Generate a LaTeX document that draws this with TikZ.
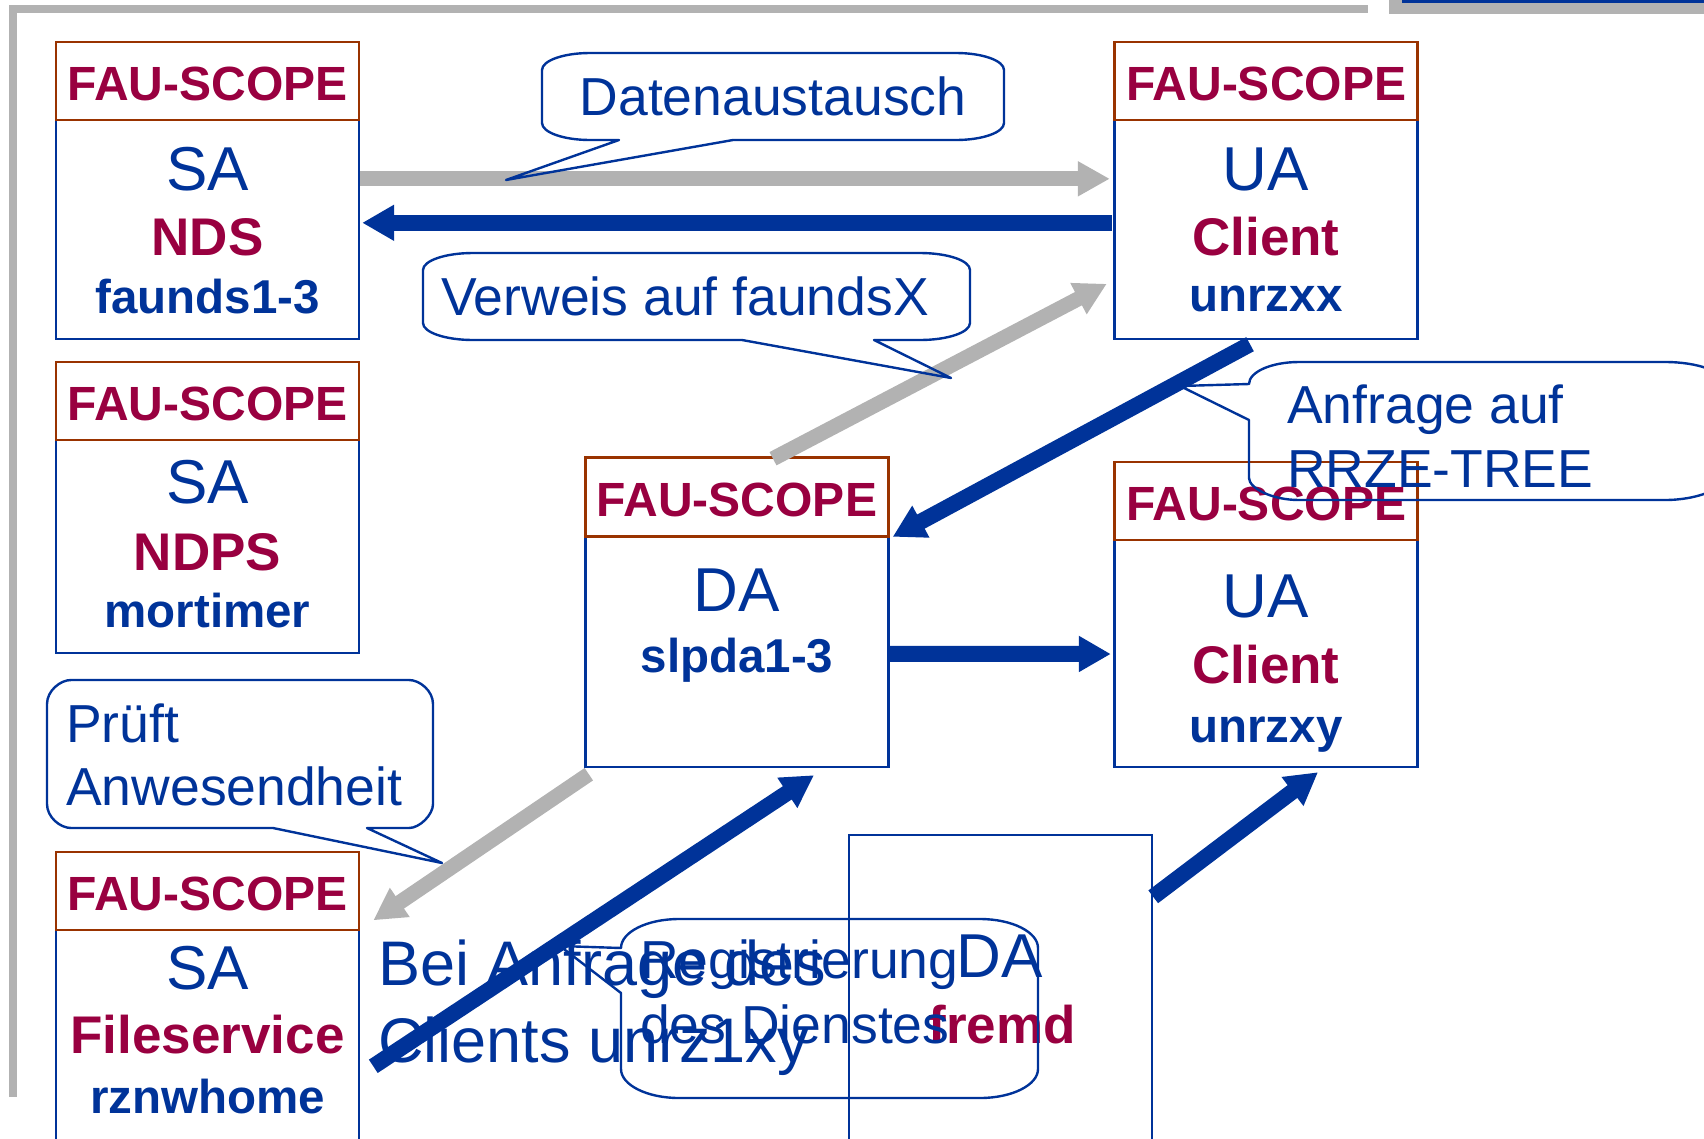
\documentclass[tikz,border=0pt]{standalone}
\usepackage{fontspec}
\setmainfont{Liberation Sans}
\usetikzlibrary{arrows.meta}
\definecolor{fblue}{RGB}{0,51,153}
\definecolor{fred}{RGB}{153,0,64}
\definecolor{hbrown}{RGB}{153,51,0}
\definecolor{fgray}{RGB}{178,178,178}
\tikzset{
 hdr/.style={draw=hbrown, line width=2.6pt, minimum width=303pt, minimum height=78pt, inner sep=0pt, text=fred, font=\bfseries\fontsize{48}{48}\selectfont, text height=38pt, text depth=0pt},
 bodybox/.style={draw=fblue, line width=2.4pt, minimum width=303pt, inner sep=0pt},
 big/.style={text=fblue, font=\fontsize{62}{62}\selectfont, anchor=base, inner sep=0pt},
 redl/.style={text=fred, font=\bfseries\fontsize{53}{53}\selectfont, anchor=base, inner sep=0pt},
 bluel/.style={text=fblue, font=\bfseries\fontsize{47.5}{47.5}\selectfont, anchor=base, inner sep=0pt},
 note/.style={text=fblue, font=\fontsize{53.5}{53.5}\selectfont, anchor=base west, inner sep=0pt},
 bignote/.style={text=fblue, font=\fontsize{63}{63}\selectfont, anchor=base west, inner sep=0pt},
 callout/.style={draw=fblue, line width=2.4pt, line join=round},
 bluearrow/.style={draw=fblue, line width=16pt, -{Triangle[length=32pt,width=34pt]}},
 grayarrow/.style={draw=fgray, line width=15pt, -{Triangle[length=32pt,width=33pt]}},
}
\begin{document}
\begin{tikzpicture}[x=1pt,y=-1pt]
\useasboundingbox (0,0) rectangle (1704,1138);
\clip (0,0) rectangle (1704,1138);
% frame
\fill[fgray] (9,5) rectangle (1368,13);
\fill[fgray] (9,5) rectangle (17,1097);
\fill[fgray] (1389,0) rectangle (1704,14);
\fill[fblue] (1402,0) rectangle (1704,2.5);

% boxes
\node[bodybox, minimum height=219pt] (sa1b) at (207.5,229.5) {};
\node[hdr] (sa1h) at (207.5,81) {FAU-SCOPE};
\node[bodybox, minimum height=219pt] (ua1b) at (1266,229.5) {};
\node[hdr] (ua1h) at (1266,81) {FAU-SCOPE};
\node[bodybox, minimum height=213pt] (sa2b) at (207.5,546.5) {};
\node[hdr] (sa2h) at (207.5,401) {FAU-SCOPE};
\node[bodybox, minimum height=230.5pt] (dab) at (737,651.75) {};
\node[hdr, minimum height=79pt] (dah) at (737,497) {FAU-SCOPE};
\node[bodybox, minimum height=227pt] (ua2b) at (1266,653.5) {};
\node[hdr] (ua2h) at (1266,501) {FAU-SCOPE};
\node[bodybox, minimum height=230pt] (sa3b) at (207.5,1045) {};
\node[hdr] (sa3h) at (207.5,891) {FAU-SCOPE};
\node[bodybox, minimum height=325pt] (fremd) at (1000.5,997.5) {};

% box texts
\node[big] (t1) at (207.5,190) {SA};
\node[redl] (t2) at (207.5,255) {NDS};
\node[bluel] (t3) at (207.5,313) {faunds1-3};
\node[big] (t4) at (1266,190) {UA};
\node[redl] (t5) at (1266,255) {Client};
\node[bluel] (t6) at (1266,311) {unrzxx};
\node[big] (t7) at (207.5,503) {SA};
\node[redl] (t8) at (207.5,570) {NDPS};
\node[bluel] (t9) at (207.5,627) {mortimer};
\node[big] (t10) at (737,611) {DA};
\node[bluel] (t11) at (737,672) {slpda1-3};
\node[big] (t12) at (1266,617) {UA};
\node[redl] (t13) at (1266,683) {Client};
\node[bluel] (t14) at (1266,742) {unrzxy};
\node[big] (t15) at (207.5,989) {SA};
\node[redl] (t16) at (207.5,1053) {Fileservice};
\node[bluel] (t17) at (207.5,1113) {rznwhome};
\node[big] (t18) at (1000,977) {DA};
\node[redl] (t19) at (1002,1043) {fremd};

% free text
\node[bignote] (bei1) at (378,985) {Bei Anfrage des};
\node[bignote] (bei2) at (378,1062) {Clients unrz1xy};

% arrows
\draw[grayarrow] ([yshift=-60pt]sa1b.north east) -- ([xshift=-3.5pt,yshift=-60pt]ua1b.north west);
\draw[bluearrow] ([xshift=-1.5pt,yshift=-104pt]ua1b.north west) -- ([xshift=2pt,yshift=-104pt]sa1b.north east);
\draw[grayarrow] ([xshift=36pt,yshift=-2.5pt]dah.north) -- ([xshift=-6.5pt,yshift=-165pt]ua1b.north west);
\draw[bluearrow] ([xshift=-16pt,yshift=-4pt]ua1b.south) -- ([xshift=3pt,yshift=-1.5pt]dab.north east);
\draw[bluearrow] ([yshift=-2pt]dab.east) -- ([xshift=-2.5pt,yshift=-0.5pt]ua2b.west);
\draw[grayarrow] ([xshift=4.5pt,yshift=-6pt]dab.south west) -- ([xshift=13pt,yshift=11pt]sa3h.south east);
\draw[bluearrow] ([xshift=13pt,yshift=-135pt]sa3h.south east) -- ([xshift=77pt,yshift=-7pt]dab.south);
\draw[bluearrow] ([yshift=-63pt]fremd.north east) -- ([xshift=52pt,yshift=-4pt]ua2b.south);

% callouts
\draw[callout] (590,53) -- (956,53) .. controls (982.5,53) and (1004,60.6) .. (1004,70) -- (1004,123) .. controls (1004,132.4) and (982.5,140) .. (956,140) -- (733,140) -- (506,180) -- (619,140) -- (590,140) .. controls (563.5,140) and (542,132.4) .. (542,123) -- (542,70) .. controls (542,60.6) and (563.5,53) .. (590,53) -- cycle;
\node[text=fblue, font=\fontsize{53.5}{53.5}\selectfont, anchor=base, inner sep=0pt] (cdat) at (773,115) {Datenaustausch};

\draw[callout] (473,253) -- (920,253) .. controls (947.6,253) and (970,260.6) .. (970,270) -- (970,323) .. controls (970,332.4) and (947.6,340) .. (920,340) -- (874,340) -- (951,378) -- (742,340) -- (473,340) .. controls (445.4,340) and (423,332.4) .. (423,323) -- (423,270) .. controls (423,260.6) and (445.4,253) .. (473,253) -- cycle;
\node[note] (cver) at (441,315) {Verweis auf faundsX};

\draw[callout] (1299,362) -- (1665,362) .. controls (1698.1,362) and (1725,371.9) .. (1725,384) -- (1725,478) .. controls (1725,487.9) and (1698.1,500) .. (1665,500) -- (1299,500) .. controls (1271.4,500) and (1249,487.9) .. (1249,478) -- (1249,420) -- (1180,386) -- (1249,384) .. controls (1249,371.9) and (1271.4,362) .. (1299,362) -- cycle;
\node[note] (canf1) at (1287,423) {Anfrage auf};
\node[note] (canf2) at (1287,487) {RRZE-TREE};

\draw[callout] (71,680) -- (409,680) .. controls (419.75,680) and (433,690.75) .. (433,704) -- (433,804) .. controls (433,814.75) and (419.75,828) .. (409,828) -- (367,828) -- (442,863) -- (273,828) -- (71,828) .. controls (60.25,828) and (47,817.25) .. (47,804) -- (47,704) .. controls (47,690.75) and (60.25,680) .. (71,680) -- cycle;
\node[note] (cpr1) at (66,742) {Prüft};
\node[note] (cpr2) at (66,805) {Anwesendheit};

\draw[callout] (679,919) -- (980,919) .. controls (1012,919) and (1038,932) .. (1038,948) -- (1038,1069) .. controls (1038,1085) and (1012,1098) .. (980,1098) -- (679,1098) .. controls (647,1098) and (621,1085) .. (621,1069) -- (621,993) -- (560,946) -- (621,948) .. controls (621,932) and (647,919) .. (679,919) -- cycle;
\node[note] (creg1) at (640,978) {Registrierung};
\node[note] (creg2) at (640,1043) {des Dienstes};
\end{tikzpicture}
\end{document}
